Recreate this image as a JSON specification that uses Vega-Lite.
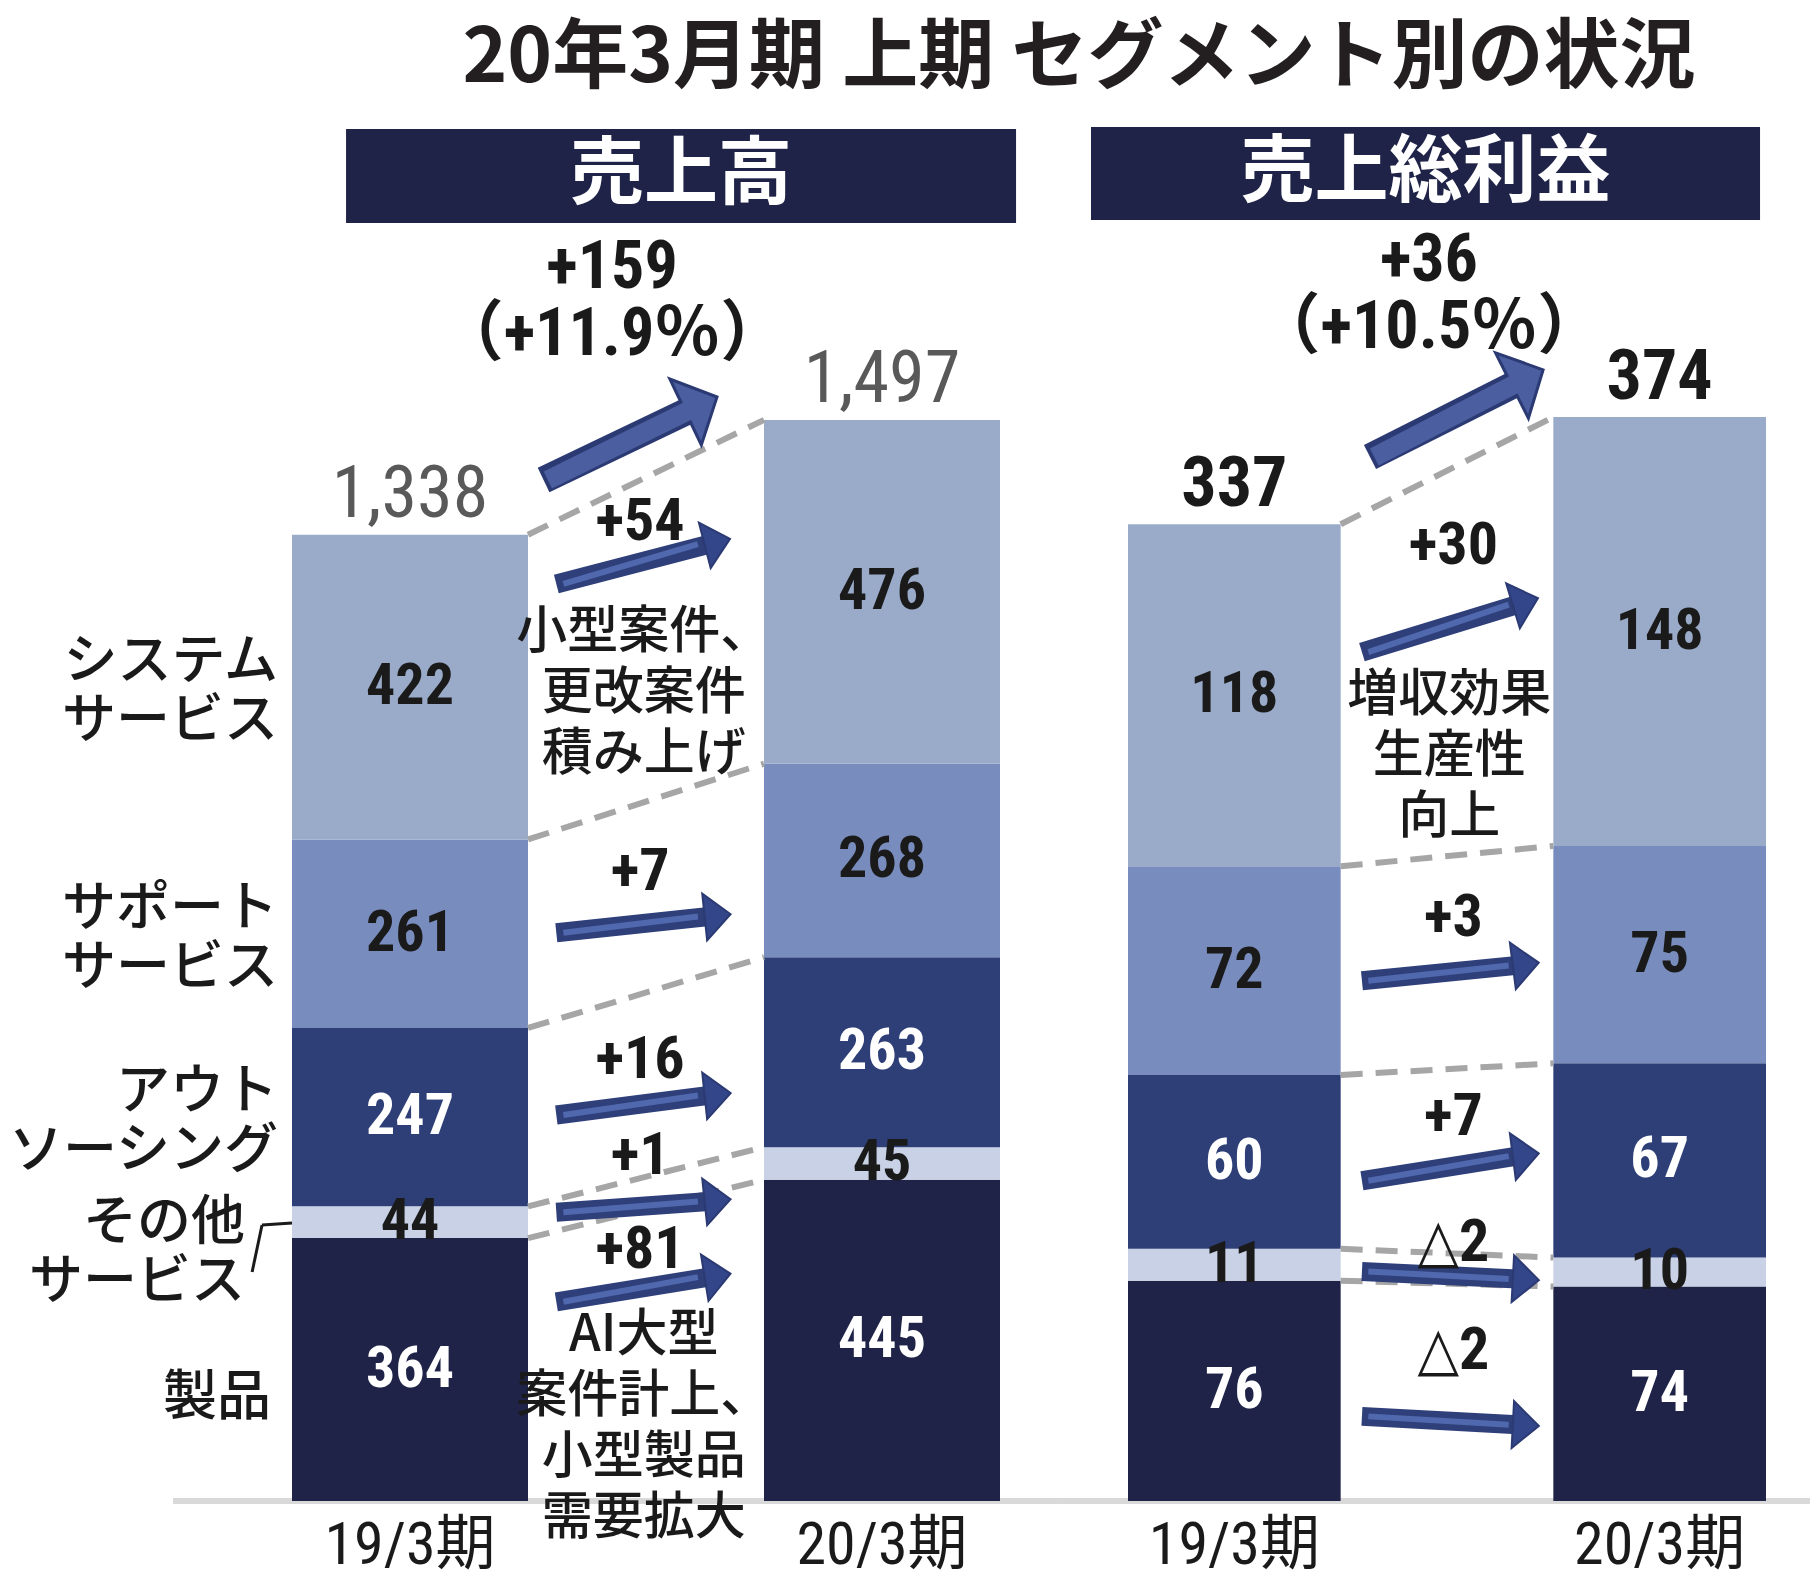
{
  "$schema": "https://vega.github.io/schema/vega-lite/v6.json",
  "width": 1810,
  "height": 1584,
  "autosize": {"type": "none"},
  "padding": 0,
  "background": "white",
  "config": {"view": {"stroke": null}, "axis": {"grid": false}},
  "title": {
    "text": "20年3月期 上期 セグメント別の状況",
    "font": "Noto Sans CJK JP", "fontSize": 76, "fontWeight": "bold", "color": "#231f20",
    "frame": "group", "anchor": "middle", "dx": 174, "offset": -98
  },
  "datasets": {
    "panels": [{"panel": "売上高"}, {"panel": "売上総利益"}],
    "sales": [
      {"period": "19/3期", "seg": "製品", "rank": 1, "value": 364},
      {"period": "19/3期", "seg": "その他 サービス", "rank": 2, "value": 44},
      {"period": "19/3期", "seg": "アウト ソーシング", "rank": 3, "value": 247},
      {"period": "19/3期", "seg": "サポート サービス", "rank": 4, "value": 261},
      {"period": "19/3期", "seg": "システム サービス", "rank": 5, "value": 422},
      {"period": "20/3期", "seg": "製品", "rank": 1, "value": 445},
      {"period": "20/3期", "seg": "その他 サービス", "rank": 2, "value": 45},
      {"period": "20/3期", "seg": "アウト ソーシング", "rank": 3, "value": 263},
      {"period": "20/3期", "seg": "サポート サービス", "rank": 4, "value": 268},
      {"period": "20/3期", "seg": "システム サービス", "rank": 5, "value": 476}
    ],
    "gross": [
      {"period": "19/3期", "seg": "製品", "rank": 1, "value": 76},
      {"period": "19/3期", "seg": "その他 サービス", "rank": 2, "value": 11},
      {"period": "19/3期", "seg": "アウト ソーシング", "rank": 3, "value": 60},
      {"period": "19/3期", "seg": "サポート サービス", "rank": 4, "value": 72},
      {"period": "19/3期", "seg": "システム サービス", "rank": 5, "value": 118},
      {"period": "20/3期", "seg": "製品", "rank": 1, "value": 74},
      {"period": "20/3期", "seg": "その他 サービス", "rank": 2, "value": 10},
      {"period": "20/3期", "seg": "アウト ソーシング", "rank": 3, "value": 67},
      {"period": "20/3期", "seg": "サポート サービス", "rank": 4, "value": 75},
      {"period": "20/3期", "seg": "システム サービス", "rank": 5, "value": 148}
    ],
    "salesArrows": [
      {"seg": "合計", "diff": "+159", "tail": 1413.7, "head": 1511.4},
      {"seg": "システム サービス", "diff": "+54", "tail": 1269.8, "head": 1324.8},
      {"seg": "サポート サービス", "diff": "+7", "tail": 786.8, "head": 809.3},
      {"seg": "アウト ソーシング", "diff": "+16", "tail": 534.5, "head": 561.6},
      {"seg": "その他 サービス", "diff": "+1", "tail": 399.9, "head": 414.7},
      {"seg": "製品", "diff": "+81", "tail": 275.8, "head": 310.0}
    ],
    "grossArrows": [
      {"seg": "合計", "diff": "+36", "tail": 360.2, "head": 385.8},
      {"seg": "システム サービス", "diff": "+30", "tail": 292.9, "head": 309.3},
      {"seg": "サポート サービス", "diff": "+3", "tail": 179.5, "head": 184.8},
      {"seg": "アウト ソーシング", "diff": "+7", "tail": 110.5, "head": 119.0},
      {"seg": "その他 サービス", "diff": "△2", "tail": 79.2, "head": 76.6},
      {"seg": "製品", "diff": "△2", "tail": 29.2, "head": 26.3}
    ],
    "salesNotes": [
      {"kind": "total", "note": "+159", "lvl": 1707.3},
      {"kind": "total", "note": "（+11.9％）", "lvl": 1614.5},
      {"kind": "diff", "note": "+54", "lvl": 1355.6},
      {"kind": "diff", "note": "+7", "lvl": 871.0},
      {"kind": "diff", "note": "+16", "lvl": 610.6},
      {"kind": "diff", "note": "+1", "lvl": 477.7},
      {"kind": "diff", "note": "+81", "lvl": 347.5},
      {"kind": "reason", "note": "小型案件、\n更改案件\n積み上げ", "lvl": 1201.9},
      {"kind": "reason", "note": "AI大型\n案件計上、\n小型製品\n需要拡大", "lvl": 228.5}
    ],
    "grossNotes": [
      {"kind": "total", "note": "+36", "lvl": 427.9},
      {"kind": "total", "note": "（+10.5％）", "lvl": 404.8},
      {"kind": "diff", "note": "+30", "lvl": 329.5},
      {"kind": "diff", "note": "+3", "lvl": 201.2},
      {"kind": "diff", "note": "+7", "lvl": 132.5},
      {"kind": "diff", "note": "△2", "lvl": 89.0},
      {"kind": "diff", "note": "△2", "lvl": 51.8},
      {"kind": "reason", "note": "増収効果\n生産性\n向上", "lvl": 277.8}
    ]
  },
  "layer": [
    {
      "layer": [
        {
          "data": {"name": "panels"},
          "transform": [{"filter": "datum.panel == '売上高'"}],
          "mark": {"type": "rect", "color": "#1f2347"},
          "encoding": {
            "x": {"datum": "19/3期", "type": "nominal", "bandPosition": 0.229, "axis": null},
            "x2": {"datum": "20/3期", "bandPosition": 1.068},
            "y": {"datum": 1899.8, "type": "quantitative", "axis": null},
            "y2": {"datum": 1769.6}
          }
        },
        {
          "data": {"name": "panels"},
          "transform": [{"filter": "datum.panel == '売上高'"}],
          "mark": {"type": "text", "font": "Noto Sans CJK JP", "fontSize": 74, "fontWeight": "bold", "color": "white", "baseline": "middle", "align": "center"},
          "encoding": {
            "x": {"datum": "19/3期", "type": "nominal", "bandPosition": 1.648, "axis": null},
            "y": {"datum": 1834.7, "type": "quantitative", "axis": null},
            "text": {"field": "panel"}
          }
        },
        {
          "data": {"name": "panels"},
          "transform": [{"filter": "datum.panel == '売上高'"}],
          "mark": {"type": "rule", "color": "#d9d9d9", "strokeWidth": 6},
          "encoding": {
            "x": {"datum": "19/3期", "type": "nominal", "bandPosition": -0.504, "axis": null},
            "x2": {"datum": "20/3期", "bandPosition": 1.271},
            "y": {"datum": 0, "type": "quantitative", "axis": null}
          }
        },
        {
          "data": {"name": "sales"},
          "mark": {"type": "bar"},
          "encoding": {
            "x": {"field": "period", "type": "nominal",
              "scale": {"domain": ["19/3期", "増減", "20/3期"], "range": [292, 1000], "paddingInner": 0, "paddingOuter": 0},
              "axis": null},
            "y": {"field": "value", "type": "quantitative", "stack": "zero",
              "scale": {"domain": [0, 2078.4], "range": [1501, 0], "nice": false}, "axis": null},
            "color": {"field": "seg", "type": "nominal",
              "scale": {"domain": ["製品", "その他 サービス", "アウト ソーシング", "サポート サービス", "システム サービス"], "range": ["#1f2347", "#c8d1e5", "#2e3f77", "#788dbd", "#9aabca"]},
              "legend": null},
            "order": {"field": "rank", "type": "quantitative"}
          }
        },
        {
          "data": {"name": "sales"},
          "transform": [{"filter": "datum.rank == 1"}],
          "mark": {"type": "text", "font": "Roboto Condensed, DejaVu Sans Condensed, Liberation Sans Narrow, Noto Sans CJK JP", "fontSize": 60, "color": "#1a1a1a", "baseline": "top", "align": "center"},
          "encoding": {
            "x": {"field": "period", "type": "nominal", "axis": null},
            "y": {"datum": -22.2, "type": "quantitative", "axis": null},
            "text": {"field": "period"}
          }
        },
        {
          "data": {"name": "sales"},
          "transform": [
            {"stack": "value", "groupby": ["period"], "sort": [{"field": "rank", "order": "ascending"}], "as": ["v0", "v1"]},
            {"pivot": "period", "value": "v1", "groupby": ["seg"]}
          ],
          "mark": {"type": "rule", "color": "#a6a6a6", "strokeWidth": 6, "strokeDash": [22, 13]},
          "encoding": {
            "x": {"datum": "19/3期", "type": "nominal", "bandPosition": 1, "axis": null},
            "x2": {"datum": "20/3期", "bandPosition": 0},
            "y": {"field": "19/3期", "type": "quantitative", "axis": null},
            "y2": {"field": "20/3期"}
          }
        },
        {
          "data": {"name": "salesArrows"},
          "transform": [{"filter": "datum.seg == '合計'"}],
          "mark": {"type": "rule", "color": "#2b3a73", "strokeWidth": 27, "strokeCap": "butt"},
          "encoding": {
            "x": {"datum": "増減", "type": "nominal", "bandPosition": 0.066, "axis": null},
            "x2": {"datum": "増減", "bandPosition": 0.69},
            "y": {"field": "tail", "type": "quantitative", "axis": null},
            "y2": {"field": "head"}
          }
        },
        {
          "data": {"name": "salesArrows"},
          "transform": [{"filter": "datum.seg == '合計'"}],
          "mark": {"type": "point", "shape": "M1,0L-0.2,-1.26L-0.2,1.26Z", "filled": true, "fill": "#4a5ea0", "stroke": "#2b3a73", "strokeWidth": 3, "strokeJoin": "miter", "size": 3364, "angle": -25.5, "opacity": 1},
          "encoding": {
            "x": {"datum": "増減", "type": "nominal", "bandPosition": 0.69, "axis": null},
            "y": {"field": "head", "type": "quantitative", "axis": null}
          }
        },
        {
          "data": {"name": "salesArrows"},
          "transform": [{"filter": "datum.seg == '合計'"}],
          "mark": {"type": "rule", "color": "#4a5ea0", "strokeWidth": 19, "strokeCap": "butt"},
          "encoding": {
            "x": {"datum": "増減", "type": "nominal", "bandPosition": 0.084, "axis": null},
            "x2": {"datum": "増減", "bandPosition": 0.69},
            "y": {"field": "tail", "type": "quantitative", "axis": null},
            "y2": {"field": "head"}
          }
        },
        {
          "data": {"name": "salesArrows"},
          "transform": [{"filter": "datum.seg != '合計'"}],
          "mark": {"type": "rule", "color": "#2e3f7a", "strokeWidth": 19, "strokeCap": "butt"},
          "encoding": {
            "x": {"datum": "増減", "type": "nominal", "bandPosition": 0.12, "axis": null},
            "x2": {"datum": "増減", "bandPosition": 0.767},
            "y": {"field": "tail", "type": "quantitative", "axis": null},
            "y2": {"field": "head"}
          }
        },
        {
          "data": {"name": "salesArrows"},
          "transform": [{"filter": "datum.seg != '合計'"}],
          "mark": {"type": "point", "shape": "M1,0L-0.2,-1.08L-0.2,1.08Z", "filled": true, "fill": "#34468a", "stroke": "#2b3a73", "strokeWidth": 2, "size": 1884, "opacity": 1},
          "encoding": {
            "x": {"datum": "増減", "type": "nominal", "bandPosition": 0.767, "axis": null},
            "y": {"field": "head", "type": "quantitative", "axis": null},
            "angle": {"condition": [{"test": "datum.diff == '+54'", "value": -14.6}, {"test": "datum.diff == '+81'", "value": -9.2}], "value": -6}
          }
        },
        {
          "data": {"name": "salesArrows"},
          "transform": [{"filter": "datum.seg != '合計'"}],
          "mark": {"type": "rule", "color": "#5068ad", "strokeWidth": 6, "strokeCap": "butt"},
          "encoding": {
            "x": {"datum": "増減", "type": "nominal", "bandPosition": 0.15, "axis": null},
            "x2": {"datum": "増減", "bandPosition": 0.72},
            "y": {"field": "tail", "type": "quantitative", "axis": null},
            "y2": {"field": "head"}
          }
        },
        {
          "data": {"name": "sales"},
          "mark": {"type": "text", "font": "Roboto Condensed, DejaVu Sans Condensed, Liberation Sans Narrow, Noto Sans CJK JP", "fontSize": 58, "fontWeight": "bold", "baseline": "middle", "align": "center"},
          "encoding": {
            "x": {"field": "period", "type": "nominal", "axis": null},
            "y": {"field": "value", "type": "quantitative", "stack": "zero", "bandPosition": 0.5, "axis": null},
            "detail": {"field": "seg"},
            "order": {"field": "rank", "type": "quantitative"},
            "text": {"field": "value", "type": "quantitative"},
            "color": {"condition": {"test": "datum.seg == 'アウト ソーシング' || datum.seg == '製品'", "value": "white"}, "value": "#1a1a1a"}
          }
        },
        {
          "data": {"name": "sales"},
          "mark": {"type": "text", "font": "Roboto Condensed, DejaVu Sans Condensed, Liberation Sans Narrow, Noto Sans CJK JP", "fontSize": 72, "color": "#595959", "baseline": "alphabetic", "align": "center", "dy": -18},
          "encoding": {
            "x": {"field": "period", "type": "nominal", "axis": null},
            "y": {"aggregate": "sum", "field": "value", "type": "quantitative", "axis": null},
            "text": {"aggregate": "sum", "field": "value", "type": "quantitative", "format": ","}
          }
        },
        {
          "data": {"name": "sales"},
          "transform": [{"filter": "datum.period == '19/3期'"}],
          "mark": {"type": "text", "font": "Noto Sans CJK JP", "fontSize": 54, "fontWeight": 500, "color": "#1a1a1a", "baseline": "middle", "align": "right", "dx": -14, "dy": -24, "lineBreak": " ", "lineHeight": 59},
          "encoding": {
            "x": {"field": "period", "type": "nominal", "bandPosition": 0, "axis": null},
            "y": {"field": "value", "type": "quantitative", "stack": "zero", "bandPosition": 0.5, "axis": null},
            "detail": {"field": "seg"},
            "order": {"field": "rank", "type": "quantitative"},
            "text": {"condition": {"test": "datum.rank >= 3", "field": "seg"}, "value": ""}
          }
        },
        {
          "data": {"name": "sales"},
          "transform": [{"filter": "datum.period == '19/3期' && datum.rank <= 2"}],
          "mark": {"type": "text", "font": "Noto Sans CJK JP", "fontSize": 54, "fontWeight": 500, "color": "#1a1a1a", "baseline": "middle", "align": "right", "dx": -47, "dy": 2, "lineBreak": " ", "lineHeight": 59},
          "encoding": {
            "x": {"field": "period", "type": "nominal", "bandPosition": 0, "axis": null},
            "y": {"field": "value", "type": "quantitative", "stack": "zero", "bandPosition": 0.5, "axis": null},
            "detail": {"field": "seg"},
            "order": {"field": "rank", "type": "quantitative"},
            "text": {"condition": {"test": "datum.rank == 2", "field": "seg"}, "value": ""}
          }
        },
        {
          "data": {"name": "sales"},
          "transform": [{"filter": "datum.period == '19/3期' && datum.rank == 1"}],
          "mark": {"type": "text", "font": "Noto Sans CJK JP", "fontSize": 54, "fontWeight": 500, "color": "#1a1a1a", "baseline": "middle", "align": "right", "dx": -21, "dy": 29},
          "encoding": {
            "x": {"field": "period", "type": "nominal", "bandPosition": 0, "axis": null},
            "y": {"field": "value", "type": "quantitative", "stack": "zero", "bandPosition": 0.5, "axis": null},
            "detail": {"field": "seg"},
            "order": {"field": "rank", "type": "quantitative"},
            "text": {"field": "seg"}
          }
        },
        {
          "data": {"name": "panels"},
          "transform": [{"filter": "datum.panel == '売上高'"}],
          "mark": {"type": "rule", "color": "#1a1a1a", "strokeWidth": 3},
          "encoding": {
            "x": {"datum": "19/3期", "type": "nominal", "bandPosition": -0.169, "axis": null},
            "x2": {"datum": "19/3期", "bandPosition": -0.127},
            "y": {"datum": 317.1, "type": "quantitative", "axis": null},
            "y2": {"datum": 382.2}
          }
        },
        {
          "data": {"name": "panels"},
          "transform": [{"filter": "datum.panel == '売上高'"}],
          "mark": {"type": "rule", "color": "#1a1a1a", "strokeWidth": 3},
          "encoding": {
            "x": {"datum": "19/3期", "type": "nominal", "bandPosition": -0.127, "axis": null},
            "x2": {"datum": "19/3期", "bandPosition": 0},
            "y": {"datum": 382.2, "type": "quantitative", "axis": null},
            "y2": {"datum": 384.9}
          }
        },
        {
          "data": {"name": "salesNotes"},
          "transform": [{"filter": "datum.kind == 'total'"}],
          "mark": {"type": "text", "font": "Roboto Condensed, DejaVu Sans Condensed, Liberation Sans Narrow, Noto Sans CJK JP", "fontSize": 66, "fontWeight": "bold", "color": "#1a1a1a", "baseline": "middle", "align": "center"},
          "encoding": {
            "x": {"datum": "増減", "type": "nominal", "bandPosition": 0.356, "axis": null},
            "y": {"field": "lvl", "type": "quantitative", "axis": null},
            "text": {"field": "note"}
          }
        },
        {
          "data": {"name": "salesNotes"},
          "transform": [{"filter": "datum.kind == 'diff'"}],
          "mark": {"type": "text", "font": "Roboto Condensed, DejaVu Sans Condensed, Liberation Sans Narrow, Noto Sans CJK JP", "fontSize": 60, "fontWeight": "bold", "color": "#1a1a1a", "baseline": "middle", "align": "center"},
          "encoding": {
            "x": {"datum": "増減", "type": "nominal", "bandPosition": 0.475, "axis": null},
            "y": {"field": "lvl", "type": "quantitative", "axis": null},
            "text": {"field": "note"}
          }
        },
        {
          "data": {"name": "salesNotes"},
          "transform": [{"filter": "datum.kind == 'reason'"}],
          "mark": {"type": "text", "font": "Noto Sans CJK JP", "fontSize": 51, "fontWeight": 500, "color": "#1a1a1a", "baseline": "middle", "align": "center", "lineBreak": "\n", "lineHeight": 61},
          "encoding": {
            "x": {"datum": "増減", "type": "nominal", "bandPosition": 0.49, "axis": null},
            "y": {"field": "lvl", "type": "quantitative", "axis": null},
            "text": {"field": "note"}
          }
        }
      ]
    },
    {
      "layer": [
        {
          "data": {"name": "panels"},
          "transform": [{"filter": "datum.panel == '売上総利益'"}],
          "mark": {"type": "rect", "color": "#1f2347"},
          "encoding": {
            "x": {"datum": "19/3期", "type": "nominal", "bandPosition": -0.174, "axis": null},
            "x2": {"datum": "20/3期", "bandPosition": 0.972},
            "y": {"datum": 474.1, "type": "quantitative", "axis": null},
            "y2": {"datum": 442.0}
          }
        },
        {
          "data": {"name": "panels"},
          "transform": [{"filter": "datum.panel == '売上総利益'"}],
          "mark": {"type": "text", "font": "Noto Sans CJK JP", "fontSize": 74, "fontWeight": "bold", "color": "white", "baseline": "middle", "align": "center"},
          "encoding": {
            "x": {"datum": "19/3期", "type": "nominal", "bandPosition": 1.399, "axis": null},
            "y": {"datum": 457.9, "type": "quantitative", "axis": null},
            "text": {"field": "panel"}
          }
        },
        {
          "data": {"name": "panels"},
          "transform": [{"filter": "datum.panel == '売上総利益'"}],
          "mark": {"type": "rule", "color": "#d9d9d9", "strokeWidth": 6},
          "encoding": {
            "x": {"datum": "19/3期", "type": "nominal", "bandPosition": -0.301, "axis": null},
            "x2": {"datum": "20/3期", "bandPosition": 1.207},
            "y": {"datum": 0, "type": "quantitative", "axis": null}
          }
        },
        {
          "data": {"name": "gross"},
          "mark": {"type": "bar"},
          "encoding": {
            "x": {"field": "period", "type": "nominal",
              "scale": {"domain": ["19/3期", "増減", "20/3期"], "range": [1128, 1766], "paddingInner": 0, "paddingOuter": 0},
              "axis": null},
            "y": {"field": "value", "type": "quantitative", "stack": "zero",
              "scale": {"domain": [0, 517.9], "range": [1501, 0], "nice": false}, "axis": null},
            "color": {"field": "seg", "type": "nominal",
              "scale": {"domain": ["製品", "その他 サービス", "アウト ソーシング", "サポート サービス", "システム サービス"], "range": ["#1f2347", "#c8d1e5", "#2e3f77", "#788dbd", "#9aabca"]},
              "legend": null},
            "order": {"field": "rank", "type": "quantitative"}
          }
        },
        {
          "data": {"name": "gross"},
          "transform": [{"filter": "datum.rank == 1"}],
          "mark": {"type": "text", "font": "Roboto Condensed, DejaVu Sans Condensed, Liberation Sans Narrow, Noto Sans CJK JP", "fontSize": 60, "color": "#1a1a1a", "baseline": "top", "align": "center"},
          "encoding": {
            "x": {"field": "period", "type": "nominal", "axis": null},
            "y": {"datum": -5.5, "type": "quantitative", "axis": null},
            "text": {"field": "period"}
          }
        },
        {
          "data": {"name": "gross"},
          "transform": [
            {"stack": "value", "groupby": ["period"], "sort": [{"field": "rank", "order": "ascending"}], "as": ["v0", "v1"]},
            {"pivot": "period", "value": "v1", "groupby": ["seg"]}
          ],
          "mark": {"type": "rule", "color": "#a6a6a6", "strokeWidth": 6, "strokeDash": [22, 13]},
          "encoding": {
            "x": {"datum": "19/3期", "type": "nominal", "bandPosition": 1, "axis": null},
            "x2": {"datum": "20/3期", "bandPosition": 0},
            "y": {"field": "19/3期", "type": "quantitative", "axis": null},
            "y2": {"field": "20/3期"}
          }
        },
        {
          "data": {"name": "grossArrows"},
          "transform": [{"filter": "datum.seg == '合計'"}],
          "mark": {"type": "rule", "color": "#2b3a73", "strokeWidth": 27, "strokeCap": "butt"},
          "encoding": {
            "x": {"datum": "増減", "type": "nominal", "bandPosition": 0.138, "axis": null},
            "x2": {"datum": "増減", "bandPosition": 0.83},
            "y": {"field": "tail", "type": "quantitative", "axis": null},
            "y2": {"field": "head"}
          }
        },
        {
          "data": {"name": "grossArrows"},
          "transform": [{"filter": "datum.seg == '合計'"}],
          "mark": {"type": "point", "shape": "M1,0L-0.2,-1.26L-0.2,1.26Z", "filled": true, "fill": "#4a5ea0", "stroke": "#2b3a73", "strokeWidth": 3, "strokeJoin": "miter", "size": 3364, "angle": -26.7, "opacity": 1},
          "encoding": {
            "x": {"datum": "増減", "type": "nominal", "bandPosition": 0.83, "axis": null},
            "y": {"field": "head", "type": "quantitative", "axis": null}
          }
        },
        {
          "data": {"name": "grossArrows"},
          "transform": [{"filter": "datum.seg == '合計'"}],
          "mark": {"type": "rule", "color": "#4a5ea0", "strokeWidth": 19, "strokeCap": "butt"},
          "encoding": {
            "x": {"datum": "増減", "type": "nominal", "bandPosition": 0.158, "axis": null},
            "x2": {"datum": "増減", "bandPosition": 0.83},
            "y": {"field": "tail", "type": "quantitative", "axis": null},
            "y2": {"field": "head"}
          }
        },
        {
          "data": {"name": "grossArrows"},
          "transform": [{"filter": "datum.seg != '合計'"}],
          "mark": {"type": "rule", "color": "#2e3f7a", "strokeWidth": 19, "strokeCap": "butt"},
          "encoding": {
            "x": {"datum": "増減", "type": "nominal", "bandPosition": 0.10, "axis": null},
            "x2": {"datum": "増減", "bandPosition": 0.83},
            "y": {"field": "tail", "type": "quantitative", "axis": null},
            "y2": {"field": "head"}
          }
        },
        {
          "data": {"name": "grossArrows"},
          "transform": [{"filter": "datum.seg != '合計'"}],
          "mark": {"type": "point", "shape": "M1,0L-0.2,-1.08L-0.2,1.08Z", "filled": true, "fill": "#34468a", "stroke": "#2b3a73", "strokeWidth": 2, "size": 1884, "opacity": 1},
          "encoding": {
            "x": {"datum": "増減", "type": "nominal", "bandPosition": 0.83, "axis": null},
            "y": {"field": "head", "type": "quantitative", "axis": null},
            "angle": {"condition": [{"test": "datum.diff == '+30'", "value": -17}, {"test": "datum.diff == '△2'", "value": 3}], "value": -7.3}
          }
        },
        {
          "data": {"name": "grossArrows"},
          "transform": [{"filter": "datum.seg != '合計'"}],
          "mark": {"type": "rule", "color": "#5068ad", "strokeWidth": 6, "strokeCap": "butt"},
          "encoding": {
            "x": {"datum": "増減", "type": "nominal", "bandPosition": 0.13, "axis": null},
            "x2": {"datum": "増減", "bandPosition": 0.79},
            "y": {"field": "tail", "type": "quantitative", "axis": null},
            "y2": {"field": "head"}
          }
        },
        {
          "data": {"name": "gross"},
          "mark": {"type": "text", "font": "Roboto Condensed, DejaVu Sans Condensed, Liberation Sans Narrow, Noto Sans CJK JP", "fontSize": 58, "fontWeight": "bold", "baseline": "middle", "align": "center"},
          "encoding": {
            "x": {"field": "period", "type": "nominal", "axis": null},
            "y": {"field": "value", "type": "quantitative", "stack": "zero", "bandPosition": 0.5, "axis": null},
            "detail": {"field": "seg"},
            "order": {"field": "rank", "type": "quantitative"},
            "text": {"field": "value", "type": "quantitative"},
            "color": {"condition": {"test": "datum.seg == 'アウト ソーシング' || datum.seg == '製品'", "value": "white"}, "value": "#1a1a1a"}
          }
        },
        {
          "data": {"name": "gross"},
          "mark": {"type": "text", "font": "Roboto Condensed, DejaVu Sans Condensed, Liberation Sans Narrow, Noto Sans CJK JP", "fontSize": 70, "fontWeight": "bold", "color": "#1a1a1a", "baseline": "alphabetic", "align": "center", "dy": -18},
          "encoding": {
            "x": {"field": "period", "type": "nominal", "axis": null},
            "y": {"aggregate": "sum", "field": "value", "type": "quantitative", "axis": null},
            "text": {"aggregate": "sum", "field": "value", "type": "quantitative", "format": ","}
          }
        },
        {
          "data": {"name": "grossNotes"},
          "transform": [{"filter": "datum.kind == 'total'"}],
          "mark": {"type": "text", "font": "Roboto Condensed, DejaVu Sans Condensed, Liberation Sans Narrow, Noto Sans CJK JP", "fontSize": 66, "fontWeight": "bold", "color": "#1a1a1a", "baseline": "middle", "align": "center"},
          "encoding": {
            "x": {"datum": "増減", "type": "nominal", "bandPosition": 0.415, "axis": null},
            "y": {"field": "lvl", "type": "quantitative", "axis": null},
            "text": {"field": "note"}
          }
        },
        {
          "data": {"name": "grossNotes"},
          "transform": [{"filter": "datum.kind == 'diff'"}],
          "mark": {"type": "text", "font": "Roboto Condensed, DejaVu Sans Condensed, Liberation Sans Narrow, Noto Sans CJK JP", "fontSize": 60, "fontWeight": "bold", "color": "#1a1a1a", "baseline": "middle", "align": "center"},
          "encoding": {
            "x": {"datum": "増減", "type": "nominal", "bandPosition": 0.53, "axis": null},
            "y": {"field": "lvl", "type": "quantitative", "axis": null},
            "text": {"field": "note"}
          }
        },
        {
          "data": {"name": "grossNotes"},
          "transform": [{"filter": "datum.kind == 'reason'"}],
          "mark": {"type": "text", "font": "Noto Sans CJK JP", "fontSize": 51, "fontWeight": 500, "color": "#1a1a1a", "baseline": "middle", "align": "center", "lineBreak": "\n", "lineHeight": 61},
          "encoding": {
            "x": {"datum": "増減", "type": "nominal", "bandPosition": 0.51, "axis": null},
            "y": {"field": "lvl", "type": "quantitative", "axis": null},
            "text": {"field": "note"}
          }
        }
      ]
    }
  ],
  "resolve": {"scale": {"x": "independent", "y": "independent"}, "axis": {"x": "independent", "y": "independent"}}
}
